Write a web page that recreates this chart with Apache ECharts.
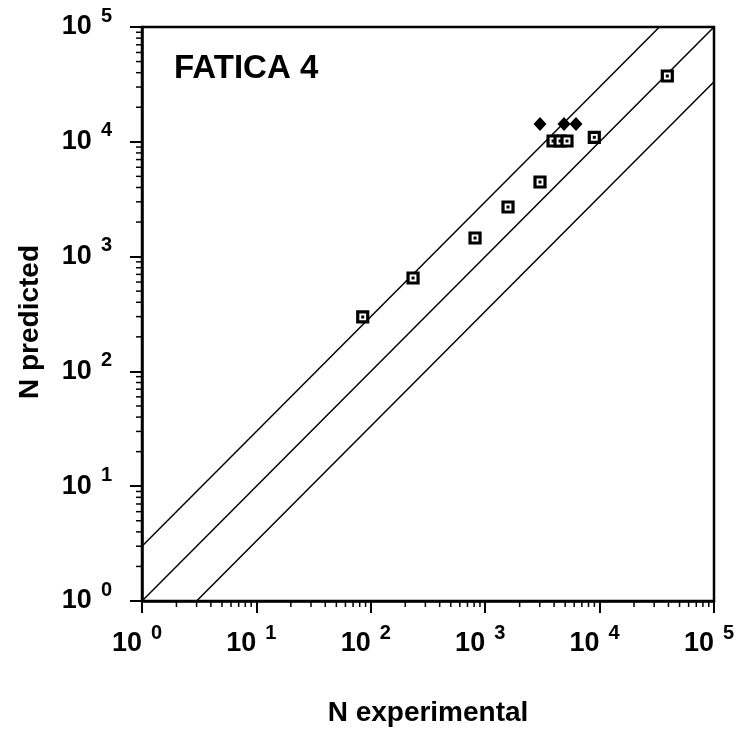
<!DOCTYPE html>
<html>
<head>
<meta charset="utf-8">
<script src="https://cdn.jsdelivr.net/npm/echarts@6/dist/echarts.min.js"></script>
<style>
html,body{margin:0;padding:0;background:#fff;}
#chart{width:742px;height:733px;}
</style>
</head>
<body>
<div id="chart"></div>
<script>
// ---- data ----
const chartTitle = 'FATICA 4';
const xAxisName = 'N experimental';
const yAxisName = 'N predicted';
const tickExponents = ['0', '1', '2', '3', '4', '5'];
const tickValues = [1, 10, 100, 1000, 10000, 100000];

// open squares: [N experimental, N predicted]
const squaresX = [85, 234, 815, 1583, 3013, 3917, 4507, 5188, 8990, 39080];
const squaresY = [298, 651, 1452, 2705, 4466, 10160, 10160, 10160, 10940, 37430];

// filled diamonds
const diamondsX = [3013, 4887, 6217];
const diamondsY = [14290, 14290, 14290];

// reference lines (end points): N pred = 3·N exp, N pred = N exp, N pred = N exp / 3
const lineUpper = [[1, 3], [33333, 100000]];
const lineMiddle = [[1, 1], [100000, 100000]];
const lineLower = [[3, 1], [100000, 33333]];

// minor tick values (2..9 per decade)
const minorMultipliers = [2, 3, 4, 5, 6, 7, 8, 9];
const decades = [1, 10, 100, 1000, 10000];

// ---- build ----
const squares = squaresX.map((x, i) => [x, squaresY[i]]);
const diamonds = diamondsX.map((x, i) => [x, diamondsY[i]]);
const minorVals = [];
decades.forEach(d => minorMultipliers.forEach(m => minorVals.push(d * m)));

const FONT = 'Liberation Sans';

function expLabel(v) {
  const idx = tickValues.indexOf(Math.round(v));
  const e = idx >= 0 ? tickExponents[idx] : '';
  return '{b|10}{s|' + e + '}';
}
const labelRichY = {
  b: { fontSize: 27, fontWeight: 'bold', fontFamily: FONT, color: '#000', lineHeight: 42 },
  s: { fontSize: 20, fontWeight: 'bold', fontFamily: FONT, color: '#000', lineHeight: 20, verticalAlign: 'top', padding: [0, 0, 0, 9] }
};
const labelRichX = {
  b: { fontSize: 27, fontWeight: 'bold', fontFamily: FONT, color: '#000', lineHeight: 42 },
  s: { fontSize: 20, fontWeight: 'bold', fontFamily: FONT, color: '#000', lineHeight: 20, verticalAlign: 'top', padding: [0, 10, 0, 9] }
};

const chart = echarts.init(document.getElementById('chart'), null, { renderer: 'canvas' });

const nameStyle = { fontSize: 28, fontWeight: 'bold', fontFamily: FONT, color: '#000' };

const option = {
  backgroundColor: '#fff',
  animation: false,
  title: {
    text: chartTitle,
    left: 174,
    top: 52,
    padding: 0,
    textStyle: { fontSize: 33, fontWeight: 'bold', fontFamily: FONT, color: '#000' }
  },
  grid: {
    left: 142, right: 28, top: 27, bottom: 132,
    containLabel: false, outerBoundsMode: 'none',
    show: true, borderColor: '#000', borderWidth: 2.5, backgroundColor: 'transparent'
  },
  xAxis: {
    type: 'log', logBase: 10, min: 1, max: 100000, interval: 1,
    name: xAxisName, nameLocation: 'middle', nameGap: 98,
    nameTextStyle: nameStyle,
    axisLine: { show: true, lineStyle: { color: '#000', width: 2.5 } },
    axisTick: { show: true, inside: false, length: 12, lineStyle: { color: '#000', width: 2 } },
    minorTick: { show: false },
    splitLine: { show: false },
    axisLabel: { margin: 22, formatter: expLabel, rich: labelRichX }
  },
  yAxis: {
    type: 'log', logBase: 10, min: 1, max: 100000, interval: 1,
    name: yAxisName, nameLocation: 'middle', nameGap: 98,
    nameTextStyle: Object.assign({}, nameStyle, { padding: [0, 16, 0, 0] }),
    axisLine: { show: true, lineStyle: { color: '#000', width: 2.5 } },
    axisTick: { show: true, inside: false, length: 12, lineStyle: { color: '#000', width: 2 } },
    minorTick: { show: false },
    splitLine: { show: false },
    axisLabel: { margin: 30, formatter: expLabel, rich: labelRichY }
  },
  series: [
    {
      type: 'line', data: lineUpper, symbol: 'none', silent: true,
      lineStyle: { color: '#000', width: 1.5 }, clip: true
    },
    {
      type: 'line', data: lineMiddle, symbol: 'none', silent: true,
      lineStyle: { color: '#000', width: 1.5 }, clip: true
    },
    {
      type: 'line', data: lineLower, symbol: 'none', silent: true,
      lineStyle: { color: '#000', width: 1.5 }, clip: true
    },
    {
      type: 'scatter', data: squares, symbol: 'rect', symbolSize: 10,
      itemStyle: { color: '#fff', borderColor: '#000', borderWidth: 3.2, opacity: 1 }, z: 5
    },
    {
      type: 'scatter', data: squares, symbol: 'rect', symbolSize: 3,
      itemStyle: { color: '#000', opacity: 1 }, z: 6
    },
    {
      type: 'scatter', data: diamonds, symbol: 'diamond', symbolSize: [13, 14],
      itemStyle: { color: '#000', opacity: 1 }, z: 5
    },
    {
      type: 'custom', silent: true, clip: false, z: 10,
      data: minorVals.map(v => [v, 1]),
      renderItem: function (params, api) {
        const p = api.coord([api.value(0), 1]);
        return { type: 'line', shape: { x1: p[0], y1: p[1], x2: p[0], y2: p[1] + 6 },
                 style: { stroke: '#000', lineWidth: 1.5 } };
      }
    },
    {
      type: 'custom', silent: true, clip: false, z: 10,
      data: minorVals.map(v => [1, v]),
      renderItem: function (params, api) {
        const p = api.coord([1, api.value(1)]);
        return { type: 'line', shape: { x1: p[0] - 6, y1: p[1], x2: p[0], y2: p[1] },
                 style: { stroke: '#000', lineWidth: 1.5 } };
      }
    }
  ]
};
chart.setOption(option);
</script>
</body>
</html>
